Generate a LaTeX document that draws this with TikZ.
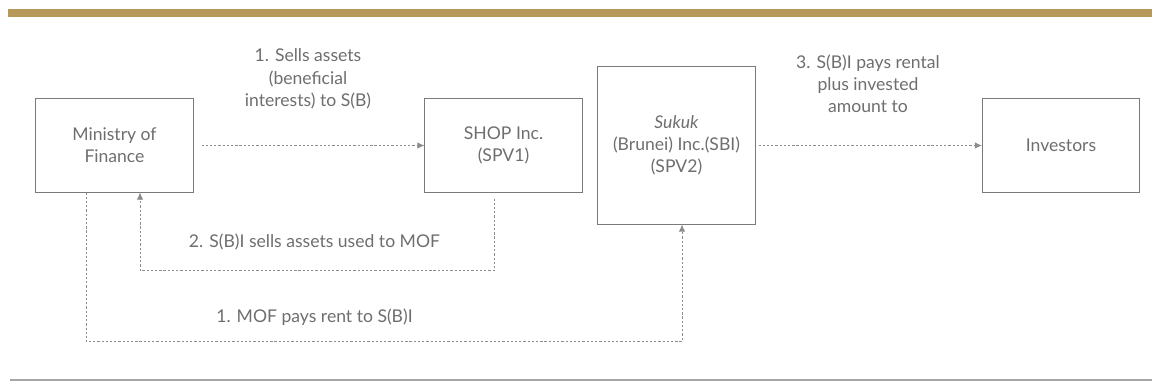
\documentclass[tikz,border=0pt]{standalone}
\usepackage{fontspec}
\setmainfont{Lato}
\usetikzlibrary{arrows.meta}
\definecolor{gold}{HTML}{B5985A}
\definecolor{boxgray}{HTML}{7A7A7A}
\definecolor{txtgray}{HTML}{6E6E6E}
\definecolor{flowgray}{HTML}{8C8C8C}
\begin{document}
\begin{tikzpicture}[x=0.025cm, y=-0.025cm, font=\fontsize{12.5}{15.8}\selectfont, text=txtgray]
\tikzset{party/.style={draw=boxgray, line width=0.7pt, minimum width=3.925cm, minimum height=2.325cm, align=center, inner sep=2pt},
  flow/.style={draw=flowgray, line width=0.6pt, dash pattern=on 1.6pt off 1.4pt, -{Latex[length=5pt,width=4.5pt]}},
  note/.style={align=center, inner sep=0pt}}
\useasboundingbox (0,0) rectangle (1152,387);
\fill[gold] (8,9) rectangle (1152,17);
\draw[line width=0.8pt, draw=black!35] (10,380) -- (1152,380);
\node[party] (mof) at (114.5,145.5) {Ministry of\\Finance};
\node[party] (shop) at (503.5,145.5) {SHOP Inc.\\(SPV1)};
\node[party, minimum height=3.925cm] (sbi) at (676.5,145.5) {\textit{Sukuk}\\(Brunei) Inc.(SBI)\\(SPV2)};
\node[party] (inv) at (1061,145.5) {Investors};
\draw[flow, shorten <=0.2cm] (mof) -- (shop);
\draw[flow, shorten <=0.075cm] (sbi) -- (inv);
\draw[flow] ([xshift=-0.225cm, yshift=-0.15cm]shop.south) -- ++(0,72) -| ([xshift=0.6375cm]mof.south);
\draw[flow] ([xshift=-0.7125cm]mof.south) -- ++(0,149) -| ([xshift=0.1375cm]sbi.south);
\node[note] (sell) at (308,79) {1. Sells assets\\(beneficial\\interests) to S(B)};
\node[note] (pay) at (868,84) {3. S(B)I pays rental\\plus invested\\amount to};
\node[note] (back) at (314.5,242) {2. S(B)I sells assets used to MOF};
\node[note] (rent) at (314.5,317) {1. MOF pays rent to S(B)I};
\end{tikzpicture}
\end{document}
